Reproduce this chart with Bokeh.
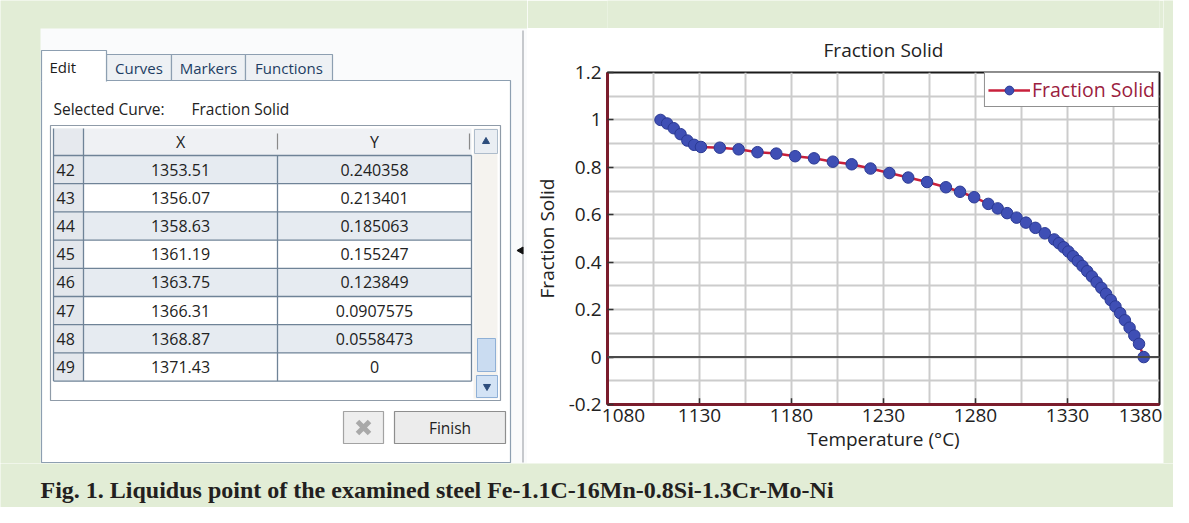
import math
from bokeh.plotting import figure
from bokeh.layouts import row, column
from bokeh.models import Range1d, FixedTicker, Span, Legend, LegendItem
from bokeh.core.properties import value
from bokeh.embed import file_html
from bokeh.resources import INLINE

# ---------------- data ----------------
TEMP = [1108.8, 1112.4, 1116.0, 1119.7, 1123.4, 1127.1, 1130.8,
        1141.03, 1151.27, 1161.51, 1171.75, 1181.99, 1192.23, 1202.47, 1212.71, 1222.95,
        1233.19, 1243.43, 1253.67, 1263.91, 1271.59, 1279.27,
        1286.95, 1292.07, 1297.19, 1302.31, 1307.43, 1312.55, 1317.67,
        1322.79, 1325.35, 1327.91, 1330.47, 1333.03, 1335.59, 1338.15, 1340.71, 1343.27,
        1345.83, 1348.39, 1350.95,
        1353.51, 1356.07, 1358.63, 1361.19, 1363.75, 1366.31, 1368.87, 1371.43]
FRACTION_SOLID = [1.0, 0.985, 0.965, 0.94, 0.913, 0.895, 0.886,
                  0.883, 0.876, 0.864, 0.858, 0.847, 0.838, 0.824, 0.813, 0.795,
                  0.776, 0.757, 0.738, 0.716, 0.697, 0.674,
                  0.646, 0.627, 0.607, 0.588, 0.567, 0.545, 0.522,
                  0.496, 0.480, 0.463, 0.445, 0.425, 0.405, 0.384, 0.362, 0.340,
                  0.316, 0.292, 0.267,
                  0.240358, 0.213401, 0.185063, 0.155247, 0.123849, 0.0907575, 0.0558473, 0]
TABLE_ROWS = [42, 43, 44, 45, 46, 47, 48, 49]
XTICKS = [1080, 1130, 1180, 1230, 1280, 1330, 1380]
XTICK_LABELS = ["1080", "1130", "1180", "1230", "1280", "1330", "1380"]
YTICKS = [-0.2, 0, 0.2, 0.4, 0.6, 0.8, 1, 1.2]
YTICK_LABELS = ["-0.2", "0", "0.2", "0.4", "0.6", "0.8", "1", "1.2"]
TABS = ["Edit", "Curves", "Markers", "Functions"]
CAPTION = "Fig. 1.  Liquidus point of the examined steel Fe-1.1C-16Mn-0.8Si-1.3Cr-Mo-Ni"

GREEN = "#e2edd6"
UI_FONT = value("Open Sans")
CHART_FONT = "Open Sans"
CHART_SIZE = "19px"


def blank(width, height, xr, yr, bg=GREEN):
    f = figure(width=width, height=height, x_range=Range1d(*xr), y_range=Range1d(*yr),
               output_backend="svg", toolbar_location=None, min_border=0,
               x_axis_type=None, y_axis_type=None)
    f.grid.visible = False
    f.outline_line_color = None
    f.background_fill_color = bg
    f.border_fill_color = bg
    return f


# ---------------- left panel (curve editor) ----------------
L = blank(527, 463, (0, 527), (463, 0))
L.quad(left=[40], right=[527], top=[28], bottom=[463], fill_color="#fafbfc", line_color=None)
# tab page
L.quad(left=[41], right=[510], top=[80], bottom=[462], fill_color="#ffffff",
       line_color="#8d9fb1", line_width=1.2)
# tabs
tab_left = [41, 106, 171, 245]
tab_right = [106, 171, 245, 332]
L.quad(left=tab_left[1:], right=tab_right[1:], top=[54] * 3, bottom=[80] * 3,
       fill_color="#eef1f4", line_color="#8d9fb1", line_width=1.2)
L.quad(left=[41], right=[106], top=[50], bottom=[81], fill_color="#ffffff", line_color=None)
L.multi_line(xs=[[41, 41, 106, 106]], ys=[[81, 50, 50, 81]], line_color="#8d9fb1", line_width=1.2)
L.text(x=[49], y=[66], text=[TABS[0]], text_font=UI_FONT, text_font_size="15px",
       text_color="#1c1c1c", text_align="left", text_baseline="middle")
L.text(x=[(a + b) / 2 for a, b in zip(tab_left[1:], tab_right[1:])], y=[67] * 3, text=TABS[1:],
       text_font=UI_FONT, text_font_size="15px", text_color="#1d3d63",
       text_align="center", text_baseline="middle")
L.text(x=[53, 191], y=[108, 108], text=["Selected Curve:", "Fraction Solid"], text_font=UI_FONT,
       text_font_size="15.5px", text_color="#222222", text_align="left", text_baseline="middle")

# table
L.quad(left=[50], right=[500], top=[125], bottom=[400], fill_color="#ffffff",
       line_color="#8f9ba8", line_width=1.2)
L.quad(left=[53], right=[471], top=[128], bottom=[155], fill_color="#eff1f4", line_color=None)
L.quad(left=[53], right=[83], top=[128], bottom=[155], fill_color="#e6e9ee", line_color=None)
RH = 28.2
n = len(TABLE_ROWS)
tops = [155 + RH * i for i in range(n)]
bots = [t + RH for t in tops]
L.quad(left=[83] * n, right=[471] * n, top=tops, bottom=bots,
       fill_color=["#e6ebf1" if i % 2 == 0 else "#ffffff" for i in range(n)], line_color=None)
L.quad(left=[53] * n, right=[83] * n, top=tops, bottom=bots, fill_color="#e3e7ec", line_color=None)
hx = [[53, 471] for _ in range(n + 1)]
hy = [[155 + RH * i, 155 + RH * i] for i in range(n + 1)]
L.multi_line(xs=hx, ys=hy, line_color="#6f8397", line_width=1.3)
L.multi_line(xs=[[53, 53], [83, 83], [277, 277], [471, 471]],
             ys=[[128, bots[-1]], [128, bots[-1]], [155, bots[-1]], [155, bots[-1]]],
             line_color="#6f8397", line_width=1.3)
L.multi_line(xs=[[277, 277], [469, 469]], ys=[[133, 149], [133, 149]], line_color="#8a8a8a", line_width=1.2)
L.text(x=[180, 374], y=[141, 141], text=["X", "Y"], text_font=UI_FONT, text_font_size="16px",
       text_color="#222222", text_align="center", text_baseline="middle")
mids = [t + RH / 2 for t in tops]
L.text(x=[56] * n, y=mids, text=[str(r) for r in TABLE_ROWS], text_font=UI_FONT,
       text_font_size="16px", text_color="#222222", text_align="left", text_baseline="middle")
L.text(x=[180] * n, y=mids, text=[f"{v:g}" for v in TEMP[-n:]], text_font=UI_FONT,
       text_font_size="16px", text_color="#222222", text_align="center", text_baseline="middle")
L.text(x=[374] * n, y=mids, text=[f"{v:g}" for v in FRACTION_SOLID[-n:]], text_font=UI_FONT,
       text_font_size="16px", text_color="#222222", text_align="center", text_baseline="middle")
# scrollbar
L.quad(left=[473], right=[497], top=[128], bottom=[398], fill_color="#f5f3ef", line_color=None)
L.quad(left=[474], right=[497], top=[129], bottom=[153], fill_color="#eaeef3",
       line_color="#aebccb", line_width=1)
L.quad(left=[477], right=[495], top=[338], bottom=[371], fill_color="#cadcf1",
       line_color="#8fb0d6", line_width=1)
L.quad(left=[476], right=[497], top=[375], bottom=[397], fill_color="#d3e3f5",
       line_color="#8fb0d6", line_width=1)
# (y range is flipped, so the marker shapes are flipped too)
L.scatter(x=[485.5], y=[141], marker="triangle", size=7, color="#2d4d7c")
L.scatter(x=[486.5], y=[386], marker="inverted_triangle", size=7, color="#2d4d7c")
# buttons
L.quad(left=[343], right=[383], top=[411], bottom=[443], fill_color="#eeeeee",
       line_color="#a3a3a3", line_width=1.2)
L.scatter(x=[363], y=[427], marker="x", size=17, line_width=5, line_color="#a9a9a9")
L.quad(left=[394], right=[505], top=[411], bottom=[443], fill_color="#ececec",
       line_color="#8e8e8e", line_width=1.2)
L.text(x=[449.5], y=[427], text=["Finish"], text_font=UI_FONT, text_font_size="15.5px",
       text_color="#222222", text_align="center", text_baseline="middle")
# splitter
L.line(x=[522.5, 522.5], y=[30, 462], line_color="#b4b8be", line_width=1.5)
L.scatter(x=[520.5], y=[250], marker="triangle", angle=math.pi / 2, size=7, color="#111111")

# ---------------- chart ----------------
X0, X1, Y0, Y1 = 1080, 1380, -0.2, 1.2
p = figure(width=636, height=435, x_range=Range1d(X0, X1), y_range=Range1d(Y0, Y1),
           output_backend="svg", toolbar_location=None, title="Fraction Solid",
           min_border_left=80, min_border_right=4, min_border_top=44, min_border_bottom=59)
p.background_fill_color = "#ffffff"
p.border_fill_color = "#ffffff"
p.outline_line_color = "#1a1a1a"
p.outline_line_width = 2
p.title.align = "center"
p.title.vertical_align = "top"
p.title.text_font = CHART_FONT
p.title.text_font_size = CHART_SIZE
p.title.text_font_style = "normal"
p.title.text_color = "#222222"
p.title.standoff = 16

p.xgrid.ticker = FixedTicker(ticks=list(range(X0, X1 + 1, 25)))
p.ygrid.ticker = FixedTicker(ticks=[round(Y0 + 0.1 * i, 1) for i in range(15)])
p.grid.grid_line_color = "#cccccc"
p.grid.grid_line_width = 2

# the first and last x labels sit inside the frame, as in the original
label_pos = list(XTICKS)
label_pos[0] = XTICKS[0] + 8.7
label_pos[-1] = XTICKS[-1] - 10.3
p.xaxis.ticker = FixedTicker(ticks=label_pos)
p.xaxis.major_label_overrides = dict(zip(label_pos, XTICK_LABELS))
p.xaxis.major_tick_line_color = None
# inward tick marks at the real tick values
p.segment(x0=XTICKS, y0=[Y0] * len(XTICKS), x1=XTICKS, y1=[Y0 + 0.026] * len(XTICKS),
          line_color="#333333", line_width=1.5)

p.yaxis.ticker = FixedTicker(ticks=YTICKS)
p.yaxis.major_label_overrides = dict(zip(YTICKS, YTICK_LABELS))
p.yaxis.major_tick_line_color = "#333333"
p.yaxis.major_tick_line_width = 1.5
p.yaxis.major_tick_in = 6
p.yaxis.major_tick_out = 0
p.xaxis.axis_label = "Temperature (\u00b0C)"
p.yaxis.axis_label = "Fraction Solid"
for ax in (p.xaxis, p.yaxis):
    ax.axis_line_color = "#7a1c2c"
    ax.axis_line_width = 3
    ax.minor_tick_line_color = None
    ax.major_label_text_font = CHART_FONT
    ax.major_label_text_font_size = CHART_SIZE
    ax.major_label_text_color = "#222222"
    ax.axis_label_text_font = CHART_FONT
    ax.axis_label_text_font_size = CHART_SIZE
    ax.axis_label_text_font_style = "normal"
    ax.axis_label_text_color = "#222222"
p.xaxis.major_tick_in = 0
p.xaxis.major_tick_out = 0
p.xaxis.major_label_standoff = 4
p.xaxis.axis_label_standoff = 1
p.yaxis.major_label_standoff = 6
p.yaxis.axis_label_standoff = 6

p.add_layout(Span(location=0, dimension="width", line_color="#4a4a4a", line_width=2))

ln = p.line(TEMP, FRACTION_SOLID, line_color="#c8203c", line_width=2.5)
pts = p.scatter(TEMP, FRACTION_SOLID, marker="circle", size=11.5, fill_color="#3f4fb5",
                line_color="#2b3a94", line_width=1)
legend = Legend(items=[LegendItem(label="Fraction Solid", renderers=[ln, pts])],
                location="top_right", margin=0, padding=3, spacing=0, label_standoff=2,
                glyph_width=42, glyph_height=22,
                border_line_color="#222222", border_line_width=1.5,
                background_fill_color="#ffffff", background_fill_alpha=1,
                label_text_color="#9b1d3e", label_text_font=CHART_FONT,
                label_text_font_size="19.5px")
p.add_layout(legend)

# ---------------- green filler and caption ----------------
G_top = blank(636, 28, (0, 1), (0, 1))
G_right = blank(10, 463, (0, 1), (0, 1))
C = blank(1173, 44, (0, 1173), (507, 463))
C.text(x=[40], y=[489], text=[CAPTION], text_font=value("Liberation Serif"), text_font_size="24px",
       text_font_style="bold", text_color="#231f20", text_align="left", text_baseline="middle")

layout = column(row(L, column(G_top, p), G_right), C)
open("out.html", "w").write(file_html(layout, INLINE))
